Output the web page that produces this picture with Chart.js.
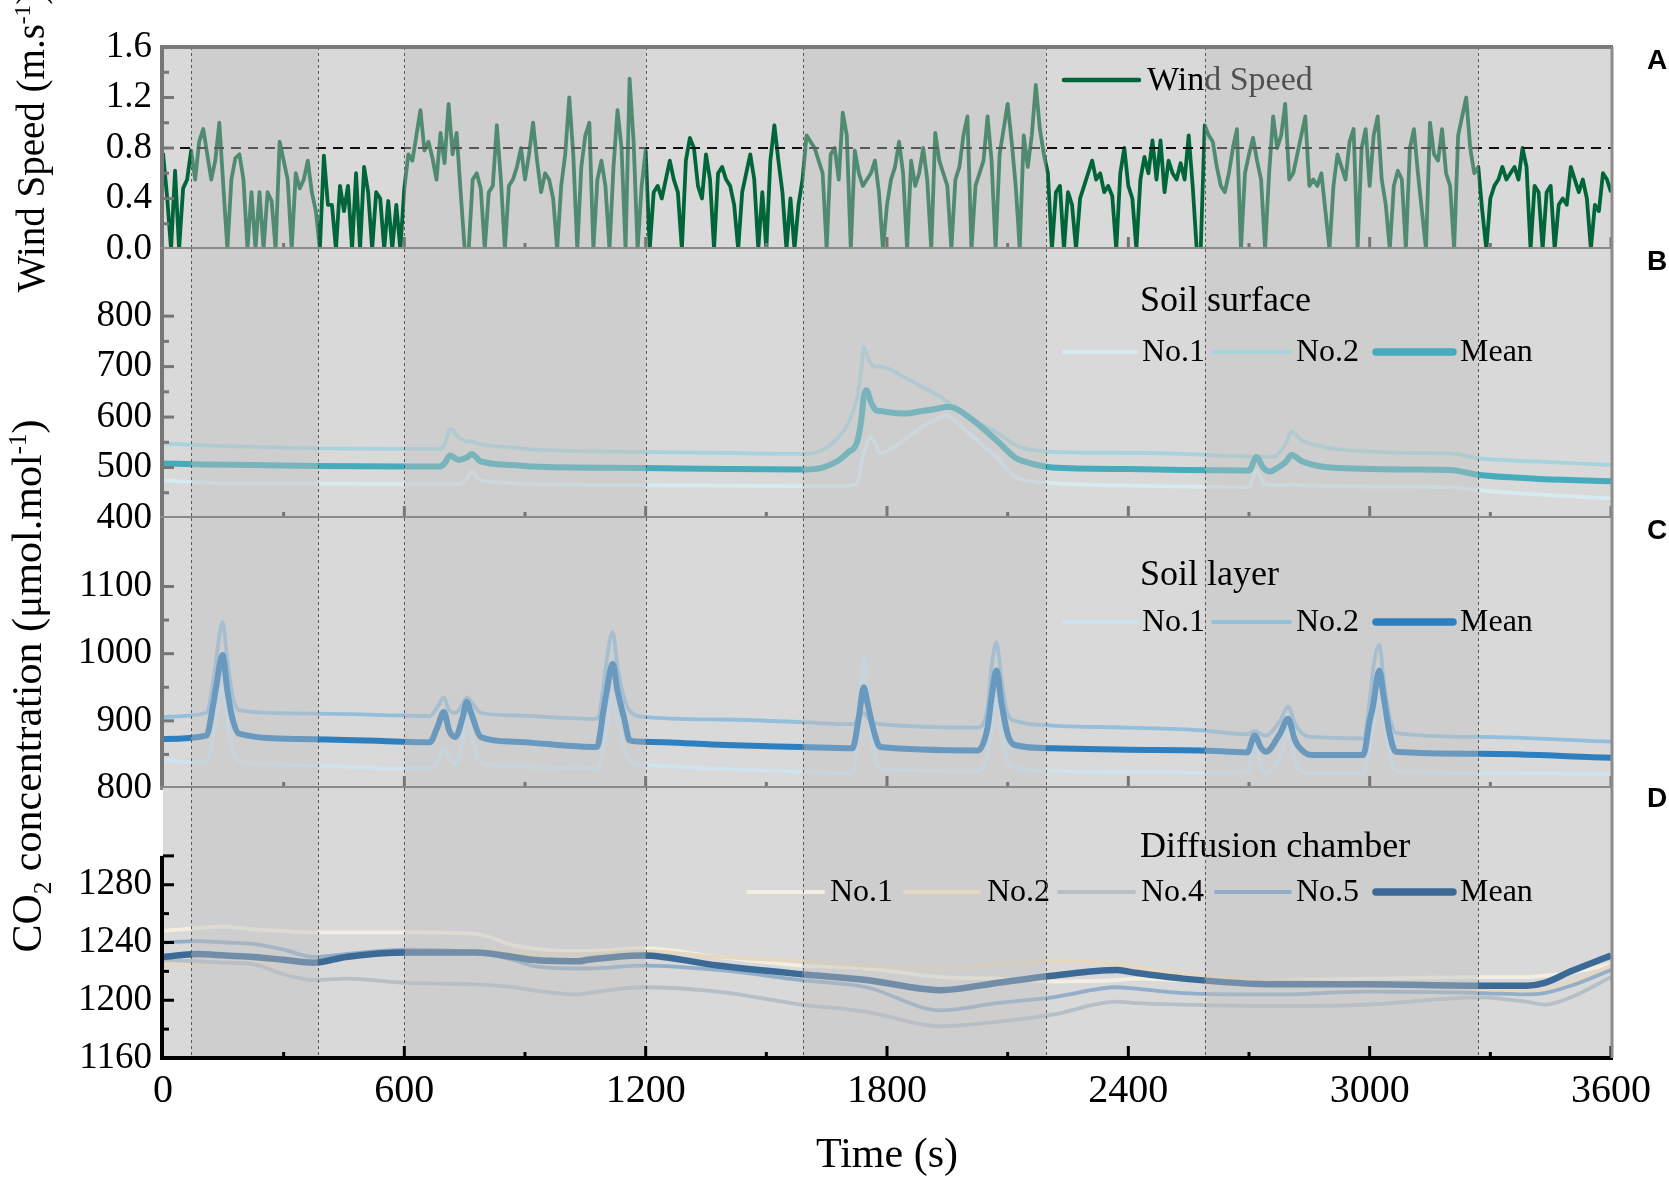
<!DOCTYPE html>
<html>
<head>
<meta charset="utf-8">
<script src="https://cdn.jsdelivr.net/npm/chart.js@4.4.0/dist/chart.umd.min.js"></script>
<style>
  body { margin: 0; background: #fff; width: 1669px; height: 1180px; overflow: hidden; position: relative; }
  canvas { position: absolute; left: 0; top: 0; }
  .txt { position: absolute; font-family: "Liberation Serif", "Times New Roman", serif; color: #000; white-space: nowrap; z-index: 5; }
  .ytitle { transform: translate(-50%, -50%) rotate(-90deg); }
  .xtitle { font-size: 42px; transform: translate(-50%, -50%); }
  .letter { font-family: "Liberation Sans", Arial, sans-serif; font-weight: bold; font-size: 28px; transform: translate(-50%, -50%); }
  sup, sub { font-size: 60%; }
</style>
</head>
<body>
<canvas id="panelA" width="1669" height="1180"></canvas>
<canvas id="panelB" width="1669" height="1180"></canvas>
<canvas id="panelC" width="1669" height="1180"></canvas>
<canvas id="panelD" width="1669" height="1180"></canvas>

<div class="txt ytitle" style="left:30px; top:142px; font-size:39px;">Wind Speed (m.s<sup>-1</sup>)</div>
<div class="txt ytitle" style="left:30px; top:686px; font-size:42px;">CO<sub>2</sub> concentration (μmol.mol<sup>-1</sup>)</div>
<div class="txt xtitle" style="left:887px; top:1153px;">Time (s)</div>
<div class="txt letter" style="left:1657px; top:60px;">A</div>
<div class="txt letter" style="left:1657px; top:261px;">B</div>
<div class="txt letter" style="left:1657px; top:530px;">C</div>
<div class="txt letter" style="left:1657px; top:798px;">D</div>

<script>
// ---- data ----
const windStep = 10; // seconds between wind samples
const windSpeed = [
  0.76, 0.42, 0.0, 0.62, 0.0, 0.48, 0.55, 0.78, 0.55, 0.85,
  0.95, 0.75, 0.55, 0.7, 1.0, 0.5, 0.0, 0.55, 0.72, 0.75,
  0.55, 0.0, 0.45, 0.0, 0.45, 0.0, 0.45, 0.38, 0.0, 0.85,
  0.7, 0.55, 0.0, 0.6, 0.48, 0.55, 0.7, 0.45, 0.3, 0.0,
  0.74, 0.35, 0.35, 0.0, 0.5, 0.3, 0.5, 0.0, 0.6, 0.0,
  0.65, 0.45, 0.0, 0.45, 0.4, 0.0, 0.38, 0.0, 0.35, 0.0,
  0.48, 0.75, 0.7, 0.9, 1.1, 0.78, 0.85, 0.72, 0.55, 0.92,
  0.68, 1.15, 0.75, 0.92, 0.45, 0.0, 0.0, 0.55, 0.6, 0.48,
  0.0, 0.45, 0.5, 0.98, 0.55, 0.0, 0.5, 0.55, 0.65, 0.8,
  0.55, 0.75, 1.0, 0.7, 0.45, 0.6, 0.55, 0.4, 0.0, 0.5,
  0.75, 1.2, 0.75, 0.0, 0.65, 0.9, 1.0, 0.0, 0.55, 0.7,
  0.5, 0.0, 0.65, 1.1, 0.8, 0.0, 1.35, 0.85, 0.0, 0.5,
  0.78, 0.0, 0.45, 0.5, 0.4, 0.55, 0.7, 0.55, 0.45, 0.0,
  0.7, 0.88, 0.8, 0.5, 0.4, 0.75, 0.55, 0.0, 0.6, 0.65,
  0.55, 0.5, 0.35, 0.0, 0.45, 0.6, 0.75, 0.55, 0.0, 0.45,
  0.0, 0.7, 0.98, 0.7, 0.45, 0.0, 0.4, 0.0, 0.35, 0.55,
  0.9, 0.85, 0.8, 0.7, 0.6, 0.0, 0.75, 0.8, 0.55, 1.08,
  0.9, 0.0, 0.78, 0.6, 0.5, 0.55, 0.6, 0.7, 0.45, 0.0,
  0.35, 0.55, 0.65, 0.85, 0.6, 0.0, 0.7, 0.5, 0.6, 0.8,
  0.55, 0.0, 0.92, 0.7, 0.6, 0.5, 0.0, 0.55, 0.65, 0.9,
  1.05, 0.0, 0.5, 0.6, 0.7, 1.05, 0.7, 0.0, 0.75, 0.95,
  1.15, 0.85, 0.5, 0.0, 0.9, 0.65, 0.9, 1.3, 0.95, 0.75,
  0.6, 0.0, 0.45, 0.5, 0.0, 0.45, 0.35, 0.0, 0.4, 0.5,
  0.6, 0.7, 0.55, 0.6, 0.45, 0.5, 0.42, 0.0, 0.6, 0.8,
  0.5, 0.4, 0.0, 0.55, 0.73, 0.6, 0.86, 0.55, 0.86, 0.45,
  0.7, 0.6, 0.55, 0.68, 0.55, 0.9, 0.5, 0.0, 0.0, 0.98,
  0.9, 0.85, 0.65, 0.5, 0.45, 0.6, 0.8, 0.95, 0.0, 0.6,
  0.75, 0.88, 0.7, 0.55, 0.0, 0.6, 1.05, 0.8, 0.9, 1.15,
  0.55, 0.6, 0.75, 0.9, 1.05, 0.5, 0.55, 0.5, 0.6, 0.3,
  0.0, 0.5, 0.75, 0.65, 0.55, 0.85, 0.95, 0.0, 0.8, 0.95,
  0.5, 0.9, 1.05, 0.55, 0.35, 0.0, 0.5, 0.62, 0.55, 0.0,
  0.8, 0.95, 0.6, 0.3, 0.0, 1.0, 0.75, 0.7, 0.95, 0.6,
  0.5, 0.0, 0.9, 1.05, 1.2, 0.8, 0.6, 0.65, 0.3, 0.0,
  0.4, 0.5, 0.55, 0.65, 0.55, 0.6, 0.65, 0.55, 0.8, 0.65,
  0.0, 0.5, 0.45, 0.0, 0.45, 0.5, 0.0, 0.35, 0.4, 0.35,
  0.65, 0.55, 0.45, 0.55, 0.4, 0.0, 0.35, 0.3, 0.6, 0.55,
  0.45
];
const windThreshold = 0.8;

// Soil surface (B)
const surfaceTime = [0, 100, 224, 380, 600, 686, 700, 714, 735, 756, 767, 790, 871, 917, 1194, 1400, 1587, 1640, 1679, 1703, 1726, 1737, 1742, 1749, 1760, 1772, 1783, 1841, 1887, 1933, 1945, 1957, 2003, 2072, 2118, 2141, 2211, 2400, 2534, 2700, 2719, 2735, 2753, 2765, 2790, 2806, 2830, 2880, 2904, 3100, 3200, 3273, 3412, 3600];
const surfaceNo1 = [475, 470, 468, 468, 467, 467, 467, 467, 467, 478, 492, 475, 469, 467, 465, 464, 463, 463, 463, 464, 470, 508, 530, 545, 561, 545, 528, 554, 580, 600, 604, 600, 568, 520, 482, 475, 469, 464, 462, 461, 495, 470, 465, 465, 465, 466, 465, 464, 463, 462, 461, 455, 447, 439];
const surfaceNo2 = [548, 544, 541, 538, 537, 537, 545, 577, 560, 552, 552, 546, 540, 536, 531, 529, 527, 535, 560, 587, 640, 700, 739, 725, 706, 700, 700, 680, 660, 640, 633, 625, 600, 570, 545, 538, 531, 529, 527, 522, 522, 521, 521, 522, 545, 571, 555, 542, 538, 529, 528, 518, 512, 505];
const surfaceMean = [508, 506, 505, 503, 502, 502, 508, 524, 515, 520, 527, 512, 505, 502, 499, 497, 496, 500, 514, 530, 552, 600, 640, 653, 630, 614, 612, 607, 612, 618, 620, 620, 600, 554, 520, 512, 500, 497, 495, 494, 521, 500, 492, 497, 510, 525, 513, 502, 500, 496, 495, 485, 478, 473];

// Soil layer (C)
const layerTime = [0, 108, 125, 132, 148, 160, 172, 189, 340, 594, 663, 682, 698, 712, 727, 745, 755, 767, 790, 871, 1079, 1095, 1102, 1118, 1130, 1148, 1160, 1194, 1400, 1587, 1714, 1730, 1742, 1752, 1765, 1783, 2026, 2050, 2060, 2072, 2085, 2100, 2118, 2211, 2400, 2580, 2696, 2714, 2730, 2742, 2777, 2797, 2815, 2840, 2857, 2984, 3000, 3008, 3024, 3035, 3050, 3065, 3273, 3600];
const layerNo1 = [841, 838, 880, 900, 950, 900, 860, 840, 834, 829, 829, 840, 860, 845, 835, 870, 910, 880, 838, 832, 829, 860, 880, 940, 900, 860, 840, 835, 828, 824, 822, 900, 995, 930, 860, 828, 825, 850, 890, 933, 880, 840, 830, 825, 824, 823, 823, 880, 830, 823, 845, 885, 840, 822, 822, 822, 860, 890, 937, 900, 850, 825, 822, 821];
const layerNo2 = [906, 912, 960, 990, 1047, 990, 940, 916, 911, 908, 907, 920, 935, 915, 912, 925, 935, 928, 912, 908, 903, 950, 985, 1032, 980, 931, 915, 906, 902, 898, 895, 905, 912, 905, 898, 895, 890, 920, 980, 1017, 960, 910, 900, 893, 890, 886, 880, 885, 880, 878, 900, 921, 895, 878, 876, 874, 930, 975, 1013, 960, 905, 882, 876, 869];
const layerMean = [873, 878, 925, 950, 998, 945, 905, 881, 873, 869, 868, 890, 913, 885, 876, 905, 928, 910, 876, 869, 861, 915, 940, 985, 945, 900, 871, 869, 864, 861, 859, 905, 950, 925, 890, 861, 856, 890, 935, 975, 925, 880, 864, 859, 857, 856, 853, 878, 860, 854, 881, 903, 870, 852, 849, 849, 900, 921, 975, 935, 880, 854, 851, 845];

// Diffusion chamber (D)
const chamberTime = [0, 85, 155, 224, 300, 374, 455, 605, 778, 871, 917, 1033, 1056, 1194, 1379, 1587, 1749, 1933, 2072, 2211, 2372, 2418, 2534, 2765, 2996, 3273, 3389, 3435, 3500, 3600];
const chamberNo1 = [1248, 1250, 1251, 1249, 1248, 1247, 1247, 1247, 1246, 1238, 1236, 1234, 1234, 1236, 1230, 1224, 1222, 1216, 1215, 1213, 1214, 1215, 1214, 1214, 1215, 1216, 1216, 1217, 1219, 1225];
const chamberNo2 = [1225, 1225, 1226, 1226, 1227, 1228, 1231, 1234, 1234, 1233, 1232, 1232, 1232, 1234, 1230, 1227, 1224, 1222, 1225, 1227, 1225, 1223, 1218, 1214, 1211, 1208, 1206, 1207, 1212, 1224];
const chamberNo4 = [1228, 1227, 1226, 1225, 1218, 1214, 1215, 1212, 1211, 1209, 1207, 1204, 1205, 1209, 1206, 1197, 1192, 1182, 1185, 1190, 1199, 1198, 1197, 1196, 1197, 1202, 1199, 1197, 1202, 1216];
const chamberNo5 = [1240, 1241, 1240, 1239, 1235, 1230, 1232, 1235, 1233, 1228, 1224, 1222, 1222, 1224, 1221, 1214, 1209, 1193, 1198, 1202, 1209, 1208, 1205, 1204, 1206, 1205, 1204, 1205, 1210, 1221];
const chamberMean = [1230, 1232, 1231, 1230, 1228, 1226, 1230, 1233, 1233, 1230, 1228, 1227, 1228, 1231, 1224, 1218, 1214, 1207, 1212, 1217, 1221, 1219, 1215, 1211, 1211, 1210, 1210, 1212, 1220, 1231];

// shaded high-wind periods, given as pairs of edges (s)
const bandEdges = [70, 385, 600, 1200, 1590, 2195, 2590, 3270];

// tick values
const xTickLabels = [0, 600, 1200, 1800, 2400, 3000, 3600];
const xMajorTicks = [600, 1200, 1800, 2400, 3000, 3600];
const xMinorTicks = [300, 900, 1500, 2100, 2700, 3300];
const windTicks = [0, 0.4, 0.8, 1.2, 1.6];
const surfaceTicks = [400, 500, 600, 700, 800];
const layerTicks = [800, 900, 1000, 1100];
const chamberTicks = [1160, 1200, 1240, 1280];

// ---- layout / styling ----
const SERIF = '"Liberation Serif", "Times New Roman", serif';
const PLOT_LEFT = 163;
const PLOT_RIGHT = 1611;
const CANVAS_W = 1669;
const CANVAS_H = 1180;
const BAND_OVERLAY = 'rgba(190,190,190,0.42)';

function pts(times, values) {
  return values.map((v, i) => ({ x: times[i], y: v }));
}
const windTime = windSpeed.map((v, i) => i * windStep);

const panels = [
  {
    id: 'panelA', top: 47, bottom: 249, min: 0, max: 1.6, labels: windTicks, decimals: 1,
    majorY: [0.4, 0.8, 1.2], minorY: [0.2, 0.6, 1.0, 1.4], axisColor: '#767676',
    legendUnderBands: true, header: null, legendY: 80,
    slots: [{ x0: 1064, x1: 1139, tx: 1147 }],
    series: [
      { label: 'Wind Speed', data: pts(windTime, windSpeed), color: '#00663a', width: 3.8, legendWidth: 4.5, tension: 0 }
    ]
  },
  {
    id: 'panelB', top: 249, bottom: 518, min: 400, max: 933, labels: surfaceTicks, decimals: 0,
    majorY: [500, 600, 700, 800], minorY: [450, 550, 650, 750], axisColor: '#767676',
    header: 'Soil surface', headerY: 302, legendY: 352,
    slots: [{ x0: 1064, x1: 1137, tx: 1142 }, { x0: 1213, x1: 1290, tx: 1296 }, { x0: 1376, x1: 1453, tx: 1460 }],
    series: [
      { label: 'No.1', data: pts(surfaceTime, surfaceNo1), color: '#d6eaf0', width: 3.8, legendWidth: 4 },
      { label: 'No.2', data: pts(surfaceTime, surfaceNo2), color: '#a6d3dc', width: 3.8, legendWidth: 4 },
      { label: 'Mean', data: pts(surfaceTime, surfaceMean), color: '#46acbb', width: 6, legendWidth: 7.5 }
    ]
  },
  {
    id: 'panelC', top: 518, bottom: 788, min: 800, max: 1202, labels: layerTicks, decimals: 0,
    majorY: [900, 1000, 1100], minorY: [850, 950, 1050], axisColor: '#767676',
    header: 'Soil layer', headerY: 576, legendY: 622,
    slots: [{ x0: 1064, x1: 1137, tx: 1142 }, { x0: 1213, x1: 1290, tx: 1296 }, { x0: 1376, x1: 1453, tx: 1460 }],
    series: [
      { label: 'No.1', data: pts(layerTime, layerNo1), color: '#cfe3ef', width: 3.8, legendWidth: 4 },
      { label: 'No.2', data: pts(layerTime, layerNo2), color: '#93bedc', width: 3.8, legendWidth: 4 },
      { label: 'Mean', data: pts(layerTime, layerMean), color: '#2e7fc0', width: 6, legendWidth: 7.5 }
    ]
  },
  {
    id: 'panelD', top: 788, bottom: 1058, min: 1160, max: 1347, labels: chamberTicks, decimals: 0,
    majorY: [1200, 1240, 1280, 1300], minorY: [1180, 1220, 1260], axisColor: '#000',
    header: 'Diffusion chamber', headerY: 848, legendY: 892, showX: true, spineTop: 1300,
    slots: [{ x0: 748, x1: 823, tx: 830 }, { x0: 905, x1: 979, tx: 987 }, { x0: 1059, x1: 1134, tx: 1141 },
            { x0: 1216, x1: 1290, tx: 1296 }, { x0: 1376, x1: 1453, tx: 1460 }],
    series: [
      { label: 'No.1', data: pts(chamberTime, chamberNo1), color: '#f3eee2', width: 3.8, legendWidth: 4 },
      { label: 'No.2', data: pts(chamberTime, chamberNo2), color: '#e6d8c0', width: 3.8, legendWidth: 4 },
      { label: 'No.4', data: pts(chamberTime, chamberNo4), color: '#b5bfc8', width: 3.8, legendWidth: 4 },
      { label: 'No.5', data: pts(chamberTime, chamberNo5), color: '#93aec8', width: 3.8, legendWidth: 4 },
      { label: 'Mean', data: pts(chamberTime, chamberMean), color: '#3b6a97', width: 6.5, legendWidth: 7.5 }
    ]
  }
];

function line(ctx, x0, y0, x1, y1) {
  ctx.beginPath();
  ctx.moveTo(x0, y0);
  ctx.lineTo(x1, y1);
  ctx.stroke();
}

function drawLegend(ctx, p) {
  ctx.save();
  ctx.fillStyle = '#000';
  ctx.textAlign = 'left';
  ctx.textBaseline = 'middle';
  if (p.header) {
    ctx.font = '36px ' + SERIF;
    ctx.fillText(p.header, 1140, p.headerY);
  }
  ctx.font = (p.header ? '32px ' : '34px ') + SERIF;
  p.series.forEach((s, i) => {
    const slot = p.slots[i];
    ctx.strokeStyle = s.color;
    ctx.lineWidth = s.legendWidth;
    ctx.lineCap = 'round';
    line(ctx, slot.x0, p.legendY, slot.x1, p.legendY);
    ctx.fillText(s.label, slot.tx, p.legendY + 1);
  });
  ctx.restore();
}

function makeDecor(p) {
  return {
    id: 'decor_' + p.id,
    beforeDraw(chart) {
      const { ctx, chartArea: a } = chart;
      ctx.save();
      ctx.fillStyle = '#d9d9d9';
      ctx.fillRect(a.left, a.top, a.right - a.left, a.bottom - a.top);
      ctx.restore();
    },
    afterDatasetsDraw(chart) {
      const { ctx, chartArea: a, scales } = chart;
      const xs = scales.x, ys = scales.y;
      ctx.save();

      // wind threshold line
      if (p.id === 'panelA') {
        ctx.strokeStyle = '#111';
        ctx.lineWidth = 1.8;
        ctx.setLineDash([10, 7]);
        const y = ys.getPixelForValue(windThreshold);
        line(ctx, a.left, y, a.right, y);
        ctx.setLineDash([]);
      }

      if (p.legendUnderBands) drawLegend(ctx, p);

      // shaded periods
      ctx.fillStyle = BAND_OVERLAY;
      for (let i = 0; i < bandEdges.length; i += 2) {
        const x0 = xs.getPixelForValue(bandEdges[i]);
        const x1 = xs.getPixelForValue(bandEdges[i + 1]);
        ctx.fillRect(x0, a.top, x1 - x0, a.bottom - a.top);
      }

      if (!p.legendUnderBands) drawLegend(ctx, p);

      // dotted period edges
      ctx.strokeStyle = '#5a5a5a';
      ctx.lineWidth = 1;
      ctx.setLineDash([3, 3]);
      bandEdges.forEach(t => {
        const x = Math.round(xs.getPixelForValue(t)) + 0.5;
        line(ctx, x, a.top, x, a.bottom);
      });
      ctx.setLineDash([]);

      // inner tick marks
      ctx.strokeStyle = p.axisColor;
      ctx.lineWidth = 3;
      p.majorY.forEach(v => { const y = ys.getPixelForValue(v); line(ctx, a.left, y, a.left + 11, y); });
      p.minorY.forEach(v => { const y = ys.getPixelForValue(v); line(ctx, a.left, y, a.left + 6, y); });
      xMajorTicks.forEach(t => { const x = xs.getPixelForValue(t); line(ctx, x, a.bottom, x, a.bottom - 12); });
      xMinorTicks.forEach(t => { const x = xs.getPixelForValue(t); line(ctx, x, a.bottom, x, a.bottom - 6); });

      // frame
      ctx.lineWidth = 4;
      if (p.id === 'panelD') {
        ctx.strokeStyle = '#000';
        line(ctx, a.left - 1, ys.getPixelForValue(p.spineTop), a.left - 1, a.bottom + 2);
        line(ctx, a.left - 3, a.bottom, a.right + 2, a.bottom);
      } else {
        ctx.strokeStyle = '#767676';
        line(ctx, a.left - 1, a.top, a.left - 1, a.bottom);
        ctx.strokeStyle = '#8a8a8a';
        line(ctx, a.left - 3, a.bottom, a.right + 2, a.bottom);
      }
      if (p.id === 'panelA') {
        ctx.strokeStyle = '#7a7a7a';
        line(ctx, a.left - 3, a.top, a.right + 2, a.top);
      }
      ctx.strokeStyle = '#8c8c8c';
      ctx.lineWidth = 3;
      line(ctx, a.right + 1, a.top, a.right + 1, a.bottom);
      ctx.restore();
    }
  };
}

Chart.defaults.font.family = SERIF;
Chart.defaults.color = '#000';

panels.forEach(p => {
  const ctx = document.getElementById(p.id).getContext('2d');
  const last = p.series.length - 1;
  new Chart(ctx, {
    type: 'line',
    data: {
      datasets: p.series.map((s, i) => ({
        label: s.label,
        data: s.data,
        borderColor: s.color,
        borderWidth: s.width,
        pointRadius: 0,
        fill: false,
        tension: s.tension === 0 ? 0 : 0.35,
        cubicInterpolationMode: s.tension === 0 ? 'default' : 'monotone',
        borderJoinStyle: 'round',
        order: i === last ? 0 : last - i
      }))
    },
    options: {
      responsive: false,
      animation: false,
      devicePixelRatio: 1,
      layout: {
        padding: { left: 0, right: CANVAS_W - PLOT_RIGHT, top: p.top, bottom: p.showX ? 0 : CANVAS_H - p.bottom }
      },
      plugins: { legend: { display: false }, tooltip: { enabled: false } },
      scales: {
        x: {
          type: 'linear',
          min: 0,
          max: 3600,
          display: !!p.showX,
          afterFit: s => { if (p.showX) s.height = CANVAS_H - p.bottom; },
          afterBuildTicks: s => { s.ticks = xTickLabels.map(v => ({ value: v })); },
          grid: { display: false, drawTicks: false },
          border: { display: false },
          ticks: {
            autoSkip: false, maxRotation: 0, padding: 9,
            font: { size: 40, family: SERIF }, color: '#000',
            callback: v => String(v)
          }
        },
        y: {
          type: 'linear',
          min: p.min,
          max: p.max,
          position: 'left',
          afterFit: s => { s.width = PLOT_LEFT; },
          afterBuildTicks: s => { s.ticks = p.labels.map(v => ({ value: v })); },
          grid: { display: false, drawTicks: false },
          border: { display: false },
          ticks: {
            padding: 11,
            font: { size: 37, family: SERIF },
            color: '#000',
            callback: v => Number(v).toFixed(p.decimals)
          }
        }
      }
    },
    plugins: [makeDecor(p)]
  });
});
</script>
</body>
</html>
